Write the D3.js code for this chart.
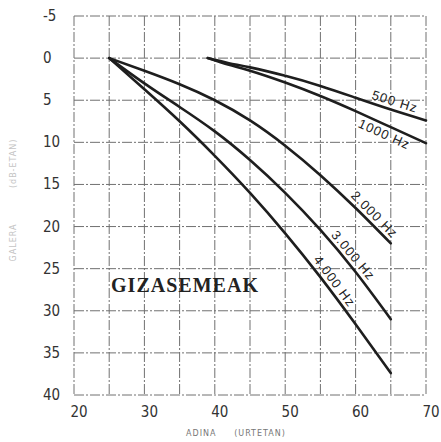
<!DOCTYPE html>
<html>
<head>
<meta charset="utf-8">
<script src="https://cdn.jsdelivr.net/npm/d3@7"></script>
<style>
  body { margin: 0; background: #fff; }
  svg { display: block; }
</style>
</head>
<body>
<script>
// age (years) and hearing loss (dB)
var agesLow = [39, 42, 45, 50, 55, 60, 65, 70];
var loss500 = [0, 0.6, 1.1, 2.1, 3.3, 4.7, 6.1, 7.4];
var loss1000 = [0, 0.8, 1.5, 2.9, 4.5, 6.3, 8.2, 10.1];

var agesHigh = [25, 30, 35, 40, 45, 50, 55, 60, 65];
var loss2000 = [0, 1.5, 3.1, 5.0, 7.4, 10.4, 13.9, 17.8, 22.0];
var loss3000 = [0, 3.0, 5.8, 8.7, 12.1, 16.0, 20.4, 25.4, 31.0];
var loss4000 = [0, 3.7, 7.5, 11.6, 16.0, 20.8, 26.0, 31.6, 37.4];

var xTicks = [20, 30, 40, 50, 60, 70];
var yTicks = [-5, 0, 5, 10, 15, 20, 25, 30, 35, 40];

var seriesNames = ["500 Hz", "1000 Hz", "2.000 Hz", "3.000 Hz", "4.000 Hz"];
var labelAges = [65.2, 64.6, 61.8, 58.7, 56.0];
var labelSide = [1, -1, 1, 1, 1];   // 1 = above the curve, -1 = below

var series = [
  {ages: agesLow, loss: loss500},
  {ages: agesLow, loss: loss1000},
  {ages: agesHigh, loss: loss2000},
  {ages: agesHigh, loss: loss3000},
  {ages: agesHigh, loss: loss4000}
];

var W = 441, H = 442;
var margin = {top: 16, right: 15, bottom: 47, left: 74};

var svg = d3.select("body").append("svg")
  .attr("width", W)
  .attr("height", H);

var x = d3.scaleLinear().domain([20, 70]).range([margin.left, W - margin.right]);
var y = d3.scaleLinear().domain([-5, 40]).range([margin.top, H - margin.bottom]);

var tickFont = "'Liberation Sans Narrow', 'DejaVu Sans Condensed', sans-serif";

// grid, every 5 years / 5 dB
var grid = svg.append("g")
  .attr("stroke", "#707070")
  .attr("stroke-width", 1)
  .attr("stroke-dasharray", "10,2,2,2");

grid.selectAll("line.v")
  .data(d3.range(20, 71, 5))
  .enter().append("line")
    .attr("x1", function(d){ return x(d) })
    .attr("x2", function(d){ return x(d) })
    .attr("y1", y(-5))
    .attr("y2", y(40));

grid.selectAll("line.h")
  .data(d3.range(-5, 41, 5))
  .enter().append("line")
    .attr("x1", x(20))
    .attr("x2", x(70))
    .attr("y1", function(d){ return y(d) })
    .attr("y2", function(d){ return y(d) });

// tick labels
svg.selectAll("text.yt")
  .data(yTicks)
  .enter().append("text")
    .attr("x", 43)
    .attr("y", function(d){ return y(d) + 5 })
    .attr("font-family", tickFont)
    .attr("font-size", 15)
    .attr("fill", "#333")
    .text(function(d){ return d });

svg.selectAll("text.xt")
  .data(xTicks)
  .enter().append("text")
    .attr("x", function(d){ return x(d) + 5 })
    .attr("y", 417)
    .attr("text-anchor", "middle")
    .attr("font-family", tickFont)
    .attr("font-size", 15)
    .attr("fill", "#333")
    .text(function(d){ return d });

// axis titles (faint in the scan)
svg.append("text")
  .attr("x", 186)
  .attr("y", 436)
  .attr("font-family", "'DejaVu Sans', sans-serif")
  .attr("font-size", 8)
  .attr("letter-spacing", 1)
  .attr("fill", "#777")
  .attr("xml:space", "preserve")
  .text("ADINA     (URTETAN)");

svg.append("text")
  .attr("transform", "translate(16,200)rotate(-90)")
  .attr("text-anchor", "middle")
  .attr("font-family", "'DejaVu Sans', sans-serif")
  .attr("font-size", 8)
  .attr("letter-spacing", 1)
  .attr("fill", "#c4c4c4")
  .attr("xml:space", "preserve")
  .text("GALERA          (dB-ETAN)");

// curves
var line = d3.line()
  .x(function(d){ return x(d[0]) })
  .y(function(d){ return y(d[1]) })
  .curve(d3.curveNatural);

series.forEach(function(s, i) {
  var pts = s.ages.map(function(a, j){ return [a, s.loss[j]] });
  svg.append("path")
    .attr("d", line(pts))
    .attr("fill", "none")
    .attr("stroke", "#1e1e1e")
    .attr("stroke-width", 2.6)
    .attr("stroke-linecap", "round");

  // label sits along the curve, rotated to its slope
  var a = labelAges[i];
  var k = d3.bisectRight(s.ages, a) - 1;
  k = Math.max(0, Math.min(k, s.ages.length - 2));
  var t = (a - s.ages[k]) / (s.ages[k + 1] - s.ages[k]);
  var lv = s.loss[k] + t * (s.loss[k + 1] - s.loss[k]);
  var dx = x(s.ages[k + 1]) - x(s.ages[k]);
  var dy = y(s.loss[k + 1]) - y(s.loss[k]);
  var ang = Math.atan2(dy, dx);
  var off = 9 * labelSide[i];
  var px = x(a) + off * Math.sin(ang);
  var py = y(lv) - off * Math.cos(ang);
  svg.append("text")
    .attr("transform", "translate(" + px + "," + py + ")rotate(" + (ang * 180 / Math.PI) + ")")
    .attr("text-anchor", "middle")
    .attr("dy", "0.35em")
    .attr("font-family", "'Liberation Sans', sans-serif")
    .attr("font-size", 13)
    .attr("letter-spacing", 1)
    .attr("fill", "#222")
    .text(seriesNames[i]);
});

// title inside the plot
svg.append("text")
  .attr("x", 111)
  .attr("y", 292)
  .attr("font-family", "'Liberation Serif', 'DejaVu Serif', serif")
  .attr("font-weight", "bold")
  .attr("font-size", 20)
  .attr("textLength", 147)
  .attr("lengthAdjust", "spacing")
  .attr("fill", "#222")
  .text("GIZASEMEAK");
</script>
</body>
</html>
